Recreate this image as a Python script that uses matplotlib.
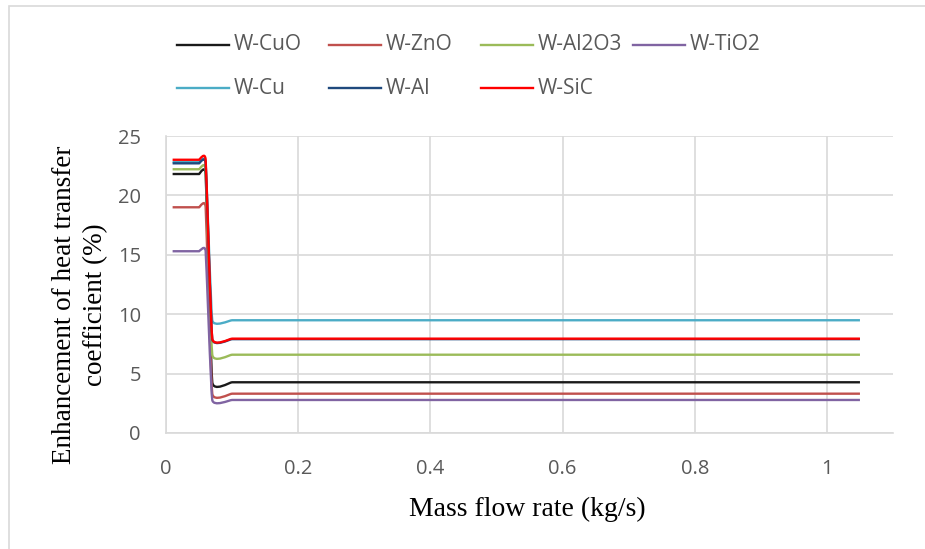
import numpy as np
import matplotlib.pyplot as plt
from matplotlib.path import Path
from matplotlib.patches import PathPatch, Rectangle
from matplotlib.lines import Line2D


# mass flow rate (kg/s)
flow = [0.01, 0.02, 0.03, 0.04, 0.05, 0.06, 0.07, 0.1, 0.15, 0.2, 0.3, 0.4,
        0.5, 0.6, 0.7, 0.8, 0.9, 1.0, 1.05]

# enhancement of heat transfer coefficient (%): low-flow level, high-flow level
names = ["W-CuO", "W-ZnO", "W-Al2O3", "W-TiO2", "W-Cu", "W-Al", "W-SiC"]
low_level = [21.8, 19.0, 22.2, 15.3, 22.8, 22.7, 23.0]
high_level = [4.27, 3.31, 6.59, 2.78, 9.49, 7.9, 7.94]
n_low = 6  # first points (0.01 - 0.06) sit on the low-flow level

colors = ["#1a1a1a", "#C0504D", "#9BBB59", "#8064A2", "#4BACC6", "#1F497D", "#FF0000"]

x_ticks = [0, 0.2, 0.4, 0.6, 0.8, 1]
x_ticklabels = ["0", "0.2", "0.4", "0.6", "0.8", "1"]
y_ticks = [0, 5, 10, 15, 20, 25]

W, H = 925, 549


def smooth_path(x, y, k=0.05):
    # Excel-like smoothed line: cubic bezier between points
    pts = np.column_stack([x, y])
    n = len(pts)
    verts = [pts[0]]
    codes = [Path.MOVETO]
    for i in range(n - 1):
        p_prev = pts[max(i - 1, 0)]
        p_next2 = pts[min(i + 2, n - 1)]
        c1 = pts[i] + (pts[i + 1] - p_prev) * k
        c2 = pts[i + 1] - (p_next2 - pts[i]) * k
        verts += [c1, c2, pts[i + 1]]
        codes += [Path.CURVE4] * 3
    return Path(verts, codes)


fig = plt.figure(figsize=(W / 100, H / 100), dpi=100)
ax = fig.add_axes([166 / W, 1 - 433 / H, (893 - 166) / W, (433 - 136) / H])

for name, lo, hi, c in zip(names, low_level, high_level, colors):
    vals = [lo] * n_low + [hi] * (len(flow) - n_low)
    ax.add_patch(PathPatch(smooth_path(flow, vals), fill=False, edgecolor=c,
                           lw=1.7, capstyle="butt", zorder=3))

ax.set_xlim(0, 1.1)
ax.set_ylim(0, 25)
ax.set_xticks(x_ticks)
ax.set_xticklabels(x_ticklabels)
ax.set_yticks(y_ticks)
ax.grid(True, color="#D9D9D9", lw=1.2)
ax.set_axisbelow(True)
for s in ["top", "right"]:
    ax.spines[s].set_visible(False)
for s in ["left", "bottom"]:
    ax.spines[s].set_color("#D9D9D9")
    ax.spines[s].set_linewidth(1.2)
ax.tick_params(axis="both", length=0, labelsize=14.5, labelcolor="#595959")
ax.tick_params(axis="y", pad=18)
ax.tick_params(axis="x", pad=19)
for lab in ax.get_xticklabels() + ax.get_yticklabels():
    lab.set_fontfamily("Open Sans")

fig.text(527 / W, 1 - 509 / H, "Mass flow rate (kg/s)", family="Liberation Serif",
         fontsize=20, ha="center", va="center")
fig.text(80 / W, 1 - 305 / H, "Enhancement of heat transfer\ncoefficient (%)",
         family="Liberation Serif", fontsize=19.5, ha="center", va="center",
         multialignment="center", rotation=90, linespacing=1.3)

# legend laid out like Excel: 4 equal columns, filled row by row
for i, (name, c) in enumerate(zip(names, colors)):
    row, col = divmod(i, 4)
    x0 = 177 + 152 * col
    y0 = 1 - (45 + 43 * row) / H
    fig.add_artist(Line2D([x0 / W, (x0 + 52) / W], [y0, y0], color=c, lw=1.7,
                          transform=fig.transFigure))
    fig.text((x0 + 57) / W, y0, name, family="Open Sans", fontsize=15,
             color="#595959", ha="left", va="center")

fig.add_artist(Rectangle((9 / W, -0.1), 1.2, 1 - 6 / H + 0.1,
                         transform=fig.transFigure, fill=False,
                         edgecolor="#D9D9D9", lw=1.2))

fig.savefig("out.png", dpi=100)
